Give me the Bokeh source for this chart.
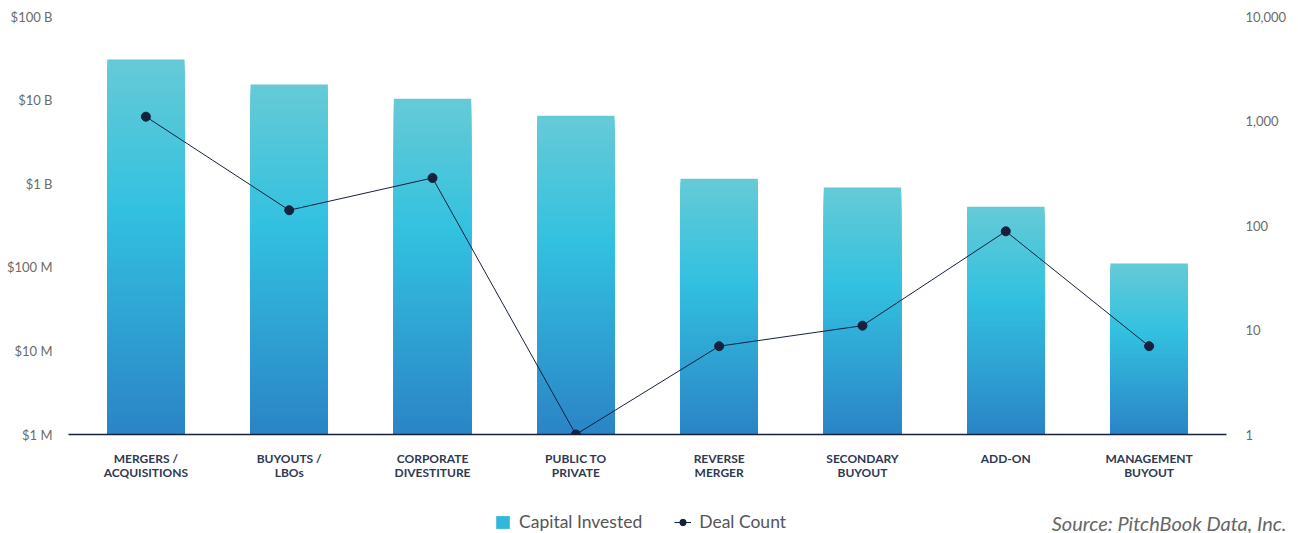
import numpy as np
from bokeh.plotting import figure
from bokeh.layouts import column, row
from bokeh.models import (FactorRange, LogAxis, Range1d, FixedTicker, Legend,
                          LegendItem, Label, ColumnDataSource, LogScale)
from bokeh.embed import file_html
from bokeh.resources import INLINE

# ---------------- data ----------------
categories = ["MERGERS /\nACQUISITIONS", "BUYOUTS /\nLBOs", "CORPORATE\nDIVESTITURE",
              "PUBLIC TO\nPRIVATE", "REVERSE\nMERGER", "SECONDARY\nBUYOUT",
              "ADD-ON", "MANAGEMENT\nBUYOUT"]
capital_invested = [30.5e9, 15.4e9, 10.4e9, 6.5e9, 1.15e9, 0.9e9, 0.53e9, 0.111e9]
deal_count = [1100, 140, 285, 1, 7, 11, 88, 7]

left_ticks = [1e6, 1e7, 1e8, 1e9, 1e10, 1e11]
left_tick_labels = ["$1 M", "$10 M", "$100 M", "$1 B", "$10 B", "$100 B"]
right_ticks = [1, 10, 100, 1000, 10000]
right_tick_labels = ["1", "10", "100", "1,000", "10,000"]

# ---------------- styling ----------------
FONT = "Lato"
NAVY = "#15213d"
TICK_GREY = "#6b6b6b"
stops = [(0.0, (43, 132, 198)), (0.6, (50, 193, 224)), (1.0, (102, 202, 214))]


def grad_color(t):
    for (t0, c0), (t1, c1) in zip(stops[:-1], stops[1:]):
        if t <= t1:
            u = (t - t0) / (t1 - t0)
            c = [round(a + (b - a) * u) for a, b in zip(c0, c1)]
            return "#%02x%02x%02x" % tuple(c)
    return "#%02x%02x%02x" % stops[-1][1]


base = left_ticks[0]
N = 70
xs, tops, colors = [], [], []
# draw from tallest fraction to shortest so lower slices paint over
for i in range(N - 1, -1, -1):
    f_top = (i + 1) / N
    col = grad_color((i + 0.5) / N)
    for cat, v in zip(categories, capital_invested):
        lt = np.log10(base) + f_top * (np.log10(v) - np.log10(base))
        xs.append(cat)
        tops.append(10 ** lt)
        colors.append(col)

bar_src = ColumnDataSource(dict(x=xs, top=tops, color=colors))

p = figure(width=1298, height=500, output_backend="svg", toolbar_location=None,
           x_range=FactorRange(*categories, range_padding=0.01),
           y_axis_type="log", y_range=Range1d(left_ticks[0], left_ticks[-1]),
           min_border_left=68, min_border_right=72, min_border_top=16,
           min_border_bottom=66, outline_line_color=None,
           background_fill_color="white", border_fill_color="white")
p.extra_y_ranges = {"count": Range1d(right_ticks[0], right_ticks[-1])}
p.extra_y_scales = {"count": LogScale()}

bars = p.vbar(x="x", top="top", bottom=base, width=0.54, source=bar_src,
              fill_color="color", line_color=None)

line_r = p.line(categories, deal_count, y_range_name="count", line_color=NAVY, line_width=1)
dots = p.scatter(categories, deal_count, y_range_name="count", size=9,
                 fill_color=NAVY, line_color=NAVY)

p.xgrid.visible = False
p.ygrid.visible = False

# left axis
ya = p.yaxis[0]
ya.ticker = FixedTicker(ticks=left_ticks)
ya.major_label_overrides = {int(t): l for t, l in zip(left_ticks, left_tick_labels)}
ya.axis_line_color = None
ya.major_tick_line_color = None
ya.minor_tick_line_color = None
ya.major_tick_out = 0
ya.major_tick_in = 0
ya.minor_tick_out = 0
ya.major_label_standoff = 16
ya.major_label_text_font = FONT
ya.major_label_text_font_size = "13px"
ya.major_label_text_color = TICK_GREY

# right axis
ra = LogAxis(y_range_name="count", ticker=FixedTicker(ticks=right_ticks))
ra.major_label_overrides = {t: l for t, l in zip(right_ticks, right_tick_labels)}
ra.axis_line_color = None
ra.major_tick_line_color = None
ra.minor_tick_line_color = None
ra.major_tick_out = 0
ra.major_tick_in = 0
ra.minor_tick_out = 0
ra.major_label_standoff = 19
ra.major_label_text_font = FONT
ra.major_label_text_font_size = "13px"
ra.major_label_text_color = TICK_GREY
p.add_layout(ra, "right")

# bottom axis
xa = p.xaxis[0]
xa.axis_line_color = NAVY
xa.axis_line_width = 1.5
xa.major_tick_line_color = None
xa.minor_tick_line_color = None
xa.major_tick_out = 0
xa.major_tick_in = 0
xa.major_label_standoff = 16
xa.major_label_text_font = FONT
xa.major_label_text_font_size = "12px"
xa.major_label_text_font_style = "bold"
xa.major_label_text_color = "#2e3954"
xa.major_label_text_line_height = 0.97

# ---------------- legend strip ----------------
strip = figure(width=1298, height=33, output_backend="svg", toolbar_location=None,
               x_range=Range1d(0, 1298), y_range=Range1d(0, 33),
               min_border_left=0, min_border_right=0, min_border_top=0,
               min_border_bottom=0, outline_line_color=None,
               background_fill_color="white", border_fill_color="white")
strip.axis.visible = False
strip.grid.visible = False

dummy = ColumnDataSource(dict(x=[-1000], y=[-1000], top=[-1000]))
lg_bar = strip.vbar(x="x", top="top", width=1, source=dummy,
                    fill_color=grad_color(0.5), line_color=None)
lg_line = strip.line(x="x", y="y", source=dummy, line_color=NAVY, line_width=1)
lg_dot = strip.scatter(x="x", y="y", source=dummy, size=8, fill_color=NAVY, line_color=NAVY)

legend = Legend(items=[LegendItem(label="Capital Invested", renderers=[lg_bar]),
                       LegendItem(label="Deal Count", renderers=[lg_line, lg_dot])],
                orientation="horizontal", location=(494, 1),
                border_line_color=None, background_fill_alpha=0,
                padding=0, margin=0, spacing=32, label_standoff=8,
                glyph_width=17, glyph_height=16,
                label_text_font=FONT, label_text_font_size="17.5px",
                label_text_color="#555555")
strip.add_layout(legend, "center")

src_label = Label(x=1286, y=11, x_units="screen", y_units="screen",
                  text="Source: PitchBook Data, Inc.", text_align="right",
                  text_baseline="middle", text_font=FONT, text_font_size="20px",
                  text_font_style="italic", text_color="#666666")
strip.add_layout(src_label)

layout = column(p, row(strip), spacing=0)
open("out.html", "w").write(file_html(layout, INLINE))
